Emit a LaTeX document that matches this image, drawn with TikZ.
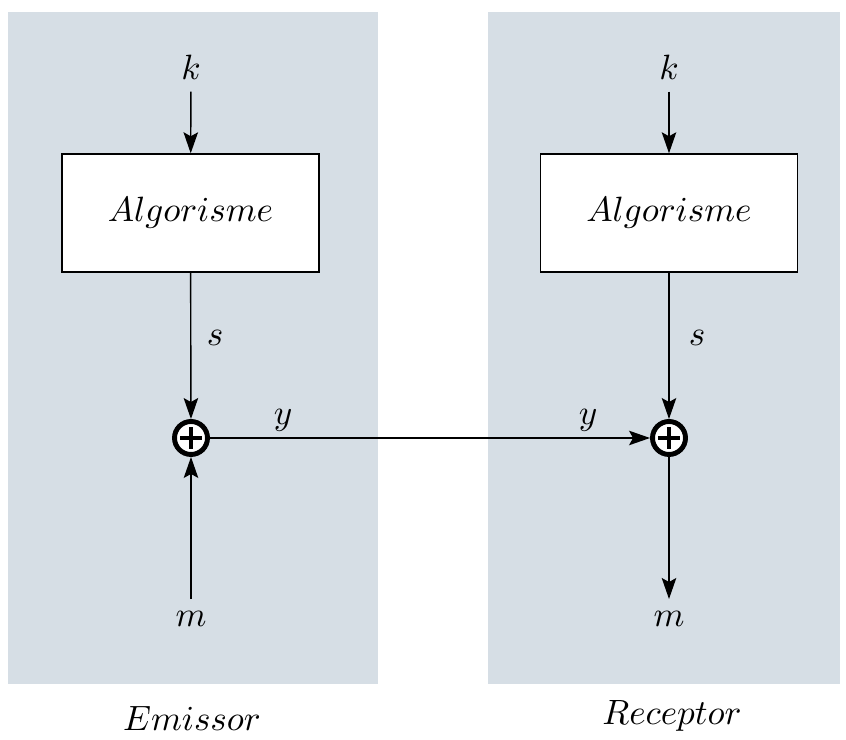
\documentclass[tikz,border=0pt]{standalone}
\usepackage{amsmath,amssymb}
\usepackage{xcolor}
\usepackage{tikz}
\usetikzlibrary{shapes,positioning,calc,arrows.meta}
\definecolor{panelgray}{HTML}{D6DEE5}
\tikzset{
  xc panel/.style={fill=panelgray, draw=none},
  xc block/.style={rectangle, draw, fill=white, align=center, minimum width=2.57cm, minimum height=1.18cm, inner sep=0pt},
  xc xor/.style={circle, draw, fill=white, line width=1.4pt, minimum size=0.33cm, inner sep=0pt,
    path picture={
      \draw[line width=1.2pt] ($(path picture bounding box.west)!0.18!(path picture bounding box.east)$) -- ($(path picture bounding box.west)!0.82!(path picture bounding box.east)$);
      \draw[line width=1.2pt] ($(path picture bounding box.north)!0.18!(path picture bounding box.south)$) -- ($(path picture bounding box.north)!0.82!(path picture bounding box.south)$);
    }},
  xc flow/.style={-{Stealth[length=2.1mm, width=1.45mm, inset=0.4mm]}, thin}
}

\begin{document}
\begin{tikzpicture}
    \useasboundingbox (0,0) rectangle (8.46,-7.40);

    % Panels
    \fill [xc panel] (0.08,-0.12) rectangle (3.78,-6.84);
    \fill [xc panel] (4.88,-0.12) rectangle (8.40,-6.84);

    % Emissor
    \node (kE) at (1.91,-0.67) {$k$};
    \node [xc block] (AlgE) at (1.905,-2.13) {$Algorisme$};
    \node [xc xor] (XorE) at (1.91,-4.38) {};
    \node (mE) at (1.91,-6.19) {$m$};
    \node (Emissor) at (1.92,-7.18) {$Emissor$};

    % Receptor
    \node (kR) at (6.69,-0.67) {$k$};
    \node [xc block] (AlgR) at (6.69,-2.13) {$Algorisme$};
    \node [xc xor] (XorR) at (6.69,-4.38) {};
    \node (mR) at (6.69,-6.19) {$m$};
    \node (Receptor) at (6.72,-7.16) {$Receptor$};

    % Connections
    \draw [xc flow] (kE) -- (AlgE);
    \draw [xc flow] (AlgE) -- (XorE);
    \draw [xc flow] (mE) -- (XorE);
    \draw [xc flow] (kR) -- (AlgR);
    \draw [xc flow] (AlgR) -- (XorR);
    \draw [xc flow] (XorR) -- (mR);
    \draw [xc flow] (XorE) -- (XorR);

    % Labels
    \node (sE) at (2.15,-3.38) {$s$};
    \node (sR) at (6.97,-3.38) {$s$};
    \node (yE) at (2.83,-4.20) {$y$};
    \node (yR) at (5.88,-4.20) {$y$};
\end{tikzpicture}
\end{document}
